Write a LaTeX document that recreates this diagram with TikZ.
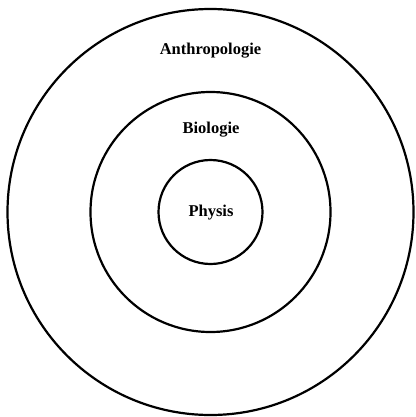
\documentclass[tikz,border=0pt]{standalone}
\usepackage{fontspec}
\setmainfont{Liberation Serif}
\usetikzlibrary{positioning}
\begin{document}
\begin{tikzpicture}[
    x=1pt, y=-1pt,
    ring/.style={draw, circle, line width=2.2pt, inner sep=0pt},
    lab/.style={anchor=base, font=\fontsize{16.5}{19}\selectfont\bfseries}
  ]
  \useasboundingbox (0,0) rectangle (415,417);
  % Rings
  \foreach \r/\n in {203/outer, 120/middle, 52/inner} {
    \node[ring, minimum size=2*\r pt] (\n) at (210.5, 212) {};
  }

  % Labels
  \node[lab] (anthro) at (210.5, 55) {Anthropologie};
  \node[lab] (bio) at (211, 133) {Biologie};
  \node[lab] (physis) at (211, 216) {Physis};
\end{tikzpicture}
\end{document}
